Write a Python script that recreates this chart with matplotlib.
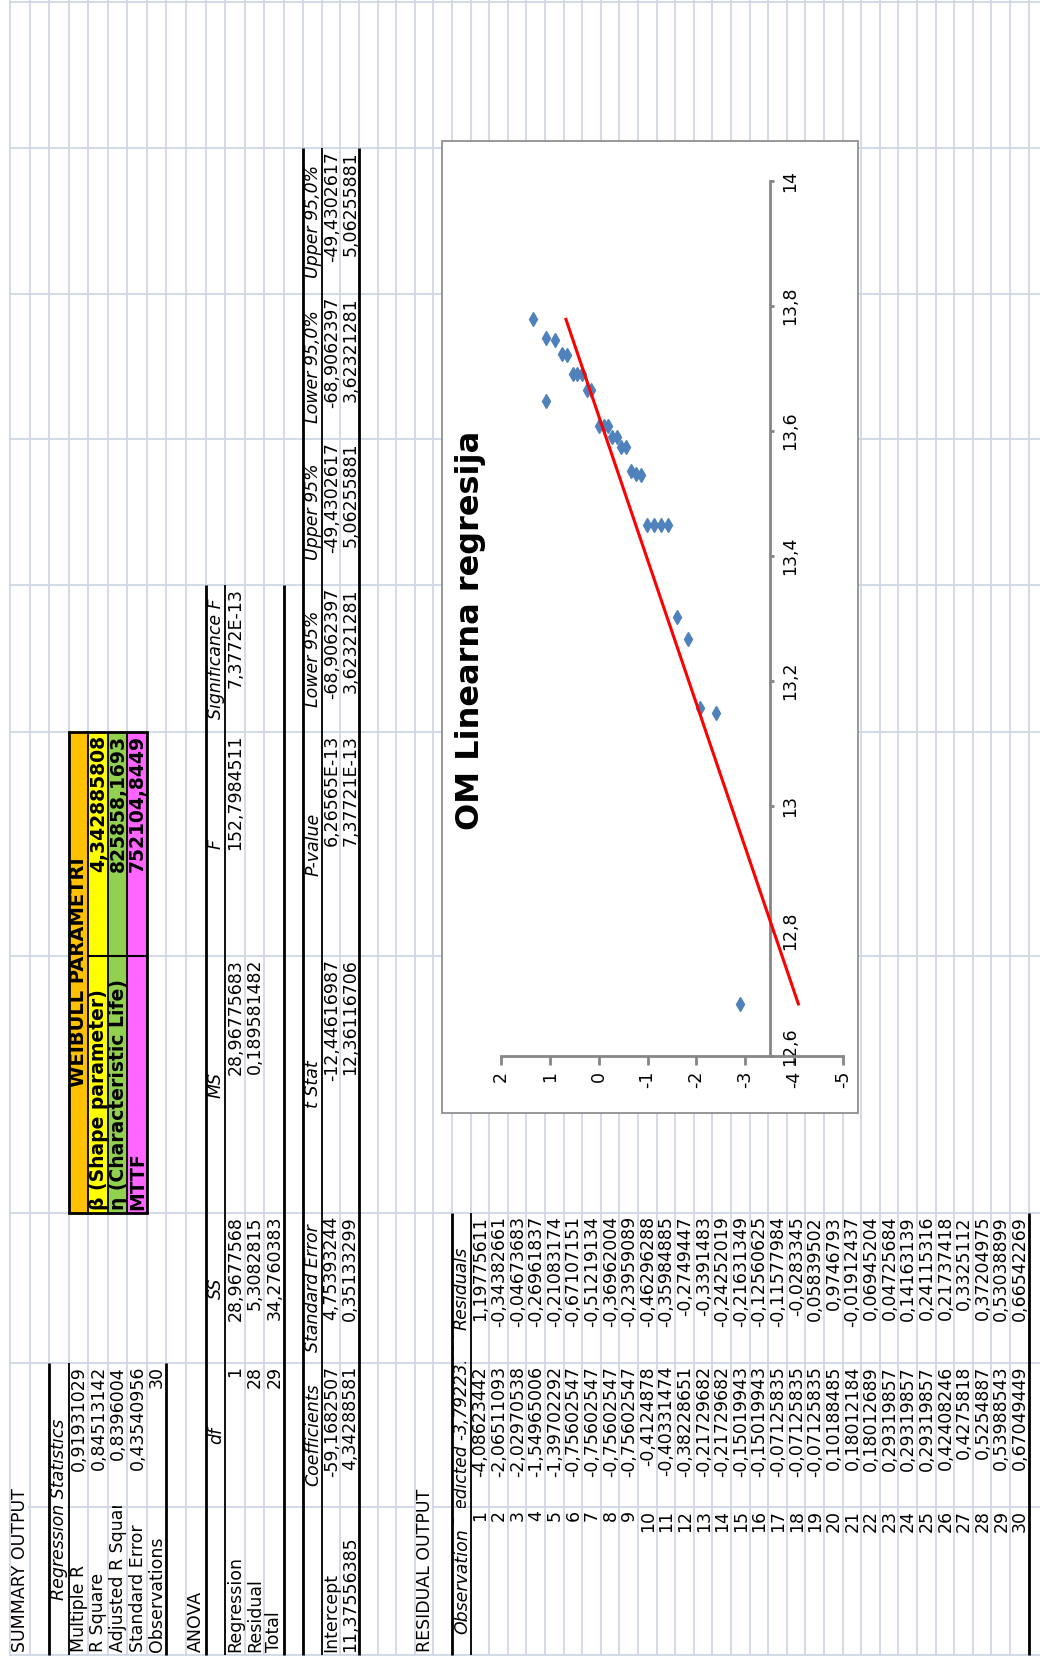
import matplotlib
matplotlib.use("Agg")
import matplotlib.pyplot as plt
from matplotlib.patches import Rectangle
from matplotlib.transforms import ScaledTranslation

plt.rcParams["font.family"] = ["DejaVu Sans"]

# ---- regression output (Excel ToolPak), the sheet is shown rotated 90 deg ----
reg_stat_labels = ["Multiple R", "R Square", "Adjusted R Square", "Standard Error", "Observations"]
reg_stat_values = ["0,91931029", "0,84513142", "0,8396004", "0,43540956", "30"]

anova_cols = ["df", "SS", "MS", "F", "Significance F"]
anova_rows = ["Regression", "Residual", "Total"]
anova_values = [
    ["1", "28,9677568", "28,96775683", "152,7984511", "7,3772E-13"],
    ["28", "5,3082815", "0,189581482", "", ""],
    ["29", "34,2760383", "", "", ""],
]

coef_cols = ["Coefficients", "Standard Error", "t Stat", "P-value",
             "Lower 95%", "Upper 95%", "Lower 95,0%", "Upper 95,0%"]
coef_rows = ["Intercept", "11,37556385"]
coef_values = [
    ["-59,1682507", "4,75393244", "-12,44616987", "6,26565E-13",
     "-68,9062397", "-49,4302617", "-68,9062397", "-49,4302617"],
    ["4,34288581", "0,35133299", "12,36116706", "7,37721E-13",
     "3,62321281", "5,06255881", "3,62321281", "5,06255881"],
]

resid_cols = ["Observation", "Predicted -3,79223139", "Residuals"]
predicted = ["-4,08623442", "-2,06511093", "-2,02970538", "-1,54965006", "-1,39702292",
             "-0,75602547", "-0,75602547", "-0,75602547", "-0,75602547", "-0,4124878",
             "-0,40331474", "-0,38228651", "-0,21729682", "-0,21729682", "-0,15019943",
             "-0,15019943", "-0,07125835", "-0,07125835", "-0,07125835", "0,10188485",
             "0,18012184", "0,18012689", "0,29319857", "0,29319857", "0,29319857",
             "0,42408246", "0,4275818", "0,5254887", "0,53988543", "0,67049449"]
residuals = ["1,19775611", "-0,34382661", "-0,04673683", "-0,26961837", "-0,21083174",
             "-0,67107151", "-0,51219134", "-0,36962004", "-0,23959089", "-0,46296288",
             "-0,35984885", "-0,2749447", "-0,3391483", "-0,24252019", "-0,21631349",
             "-0,12560625", "-0,11577984", "-0,0283345", "0,05839502", "0,9746793",
             "-0,01912437", "0,06945204", "0,04725684", "0,14163139", "0,24115316",
             "0,21737418", "0,3325112", "0,37204975", "0,53038899", "0,66542269"]

weibull_title = "WEIBULL PARAMETRI"
weibull_labels = ["β (Shape parameter)", "η (Characteristic Life)", "MTTF"]
weibull_values = ["4,342885808", "825858,1693", "752104,8449"]
weibull_colors = ["#FFFF00", "#92D050", "#FF66FF"]

# ---- chart data: ln(t) vs ln(ln(1/(1-F))) ----
ln_t = [12.6833, 13.1487, 13.1568, 13.2674, 13.3025, 13.4501, 13.4501, 13.4501, 13.4501,
        13.5292, 13.5313, 13.5362, 13.5741, 13.5741, 13.5896, 13.5896, 13.6078, 13.6078,
        13.6078, 13.6476, 13.6657, 13.6657, 13.6917, 13.6917, 13.6917, 13.7218, 13.7226,
        13.7452, 13.7485, 13.7786]
lnln = [-2.8885, -2.4089, -2.0764, -1.8193, -1.6079, -1.4271, -1.2682, -1.1256, -0.9956,
        -0.8755, -0.7632, -0.6572, -0.5564, -0.4598, -0.3665, -0.2758, -0.1870, -0.0996,
        -0.0129, 1.0766, 0.1610, 0.2496, 0.3405, 0.4348, 0.5344, 0.6415, 0.7601,
        0.8975, 1.0703, 1.3359]
intercept, slope = -59.1682507, 4.34288581
lnt_ticks = [12.6, 12.8, 13.0, 13.2, 13.4, 13.6, 13.8, 14.0]
lnt_labels = ["12,6", "12,8", "13", "13,2", "13,4", "13,6", "13,8", "14"]
y_ticks = [2, 1, 0, -1, -2, -3, -4, -5]
y_labels = ["2", "1", "0", "-1", "-2", "-3", "-4", "-5"]

W, H = 1040, 1659
FS = 12.5
GRID = "#D0D7E5"
AXC = "#868686"

# sheet geometry in pixels (rows run left->right, columns bottom->top)
COL = {"A": (1507, 1655), "B": (1363, 1507), "C": (1213, 1363), "D": (956, 1213),
       "E": (732, 956), "F": (585, 732), "G": (439, 585), "H": (294, 439),
       "I": (148, 294), "J": (2, 148)}
ORDER = "ABCDEFGHIJ"


def row_span(k):
    if k <= 15:
        x0 = 10 + 19.55 * (k - 1)
        return x0, x0 + 19.55
    x0 = 303.25 + 18.6 * (k - 16)
    return x0, x0 + 18.6


fig = plt.figure(figsize=(W / 100, H / 100), dpi=100)
sheet = fig.add_axes([0, 0, 1, 1])
sheet.set_xlim(0, W)
sheet.set_ylim(H, 0)
sheet.axis("off")
renderer = fig.canvas.get_renderer()
inv = sheet.transData.inverted()


def yrange(t):
    ext = t.get_window_extent(renderer)
    (_, ya), (_, yb) = inv.transform([[ext.x0, ext.y0], [ext.x1, ext.y1]])
    return min(ya, yb), max(ya, yb)


# gridlines
for k in range(1, 56):
    x = row_span(k)[0]
    sheet.plot([x, x], [0, 1655], color=GRID, lw=1.3, zorder=1)
for y in [2, 148, 294, 439, 585, 732, 956, 1213, 1363, 1507, 1655]:
    sheet.plot([10, W], [y, y], color=GRID, lw=1.3, zorder=1)

clipped = []


def put(k, c, s, align="left", c2=None, clip=True, **kw):
    x0, x1 = row_span(k)
    top, bot = COL[c]
    if c2:
        top = COL[c2][0]
    if align == "left":
        y, va = bot - 3, "bottom"
    elif align == "right":
        y, va = top + 3, "top"
    else:
        y, va = (top + bot) / 2, "center"
    kw.setdefault("fontsize", FS)
    t = sheet.text((x0 + x1) / 2 + 0.5, y, s, rotation=90, ha="center", va=va,
                   zorder=5, **kw)
    if clip:
        clipped.append((t, k, top, bot))
    return t


def whiteout(k, y0, y1, z=1.5):
    x0, x1 = row_span(k)
    sheet.add_patch(Rectangle((x0 + 1.5, y0), x1 - x0 - 3, y1 - y0,
                              facecolor="white", edgecolor="none", zorder=z))


def border(k_edge, c_top, c_bot, lw):
    sheet.plot([k_edge, k_edge], [COL[c_top][0], COL[c_bot][1]], color="black",
               lw=lw, zorder=6, solid_capstyle="butt")


# summary statistics
whiteout(1, 1370, 1650)
put(1, "A", "SUMMARY OUTPUT", clip=False)
whiteout(3, 1370, 1650)
put(3, "A", "Regression Statistics", align="center", c2="B", clip=False, style="italic")
for i, (lab, val) in enumerate(zip(reg_stat_labels, reg_stat_values)):
    put(4 + i, "A", lab)
    put(4 + i, "B", val, align="right")
border(row_span(3)[0], "B", "A", 2.0)
border(row_span(3)[1], "B", "A", 1.3)
border(row_span(8)[1], "B", "A", 2.0)

# ANOVA
put(10, "A", "ANOVA")
for j, h in enumerate(anova_cols):
    put(11, ORDER[1 + j], h, align="center", style="italic")
for i, lab in enumerate(anova_rows):
    put(12 + i, "A", lab)
    for j, v in enumerate(anova_values[i]):
        if v:
            put(12 + i, ORDER[1 + j], v, align="right")
border(row_span(11)[0], "F", "A", 2.0)
border(row_span(11)[1], "F", "A", 1.3)
border(row_span(14)[1], "F", "A", 2.0)

# coefficients
for j, h in enumerate(coef_cols):
    put(16, ORDER[1 + j], h, align="center", style="italic")
for i, lab in enumerate(coef_rows):
    put(17 + i, "A", lab)
    for j, v in enumerate(coef_values[i]):
        put(17 + i, ORDER[1 + j], v, align="right")
border(row_span(16)[0], "I", "A", 2.0)
border(row_span(16)[1], "I", "A", 1.3)
border(row_span(18)[1], "I", "A", 2.0)

# residual output
whiteout(22, 1370, 1650)
put(22, "A", "RESIDUAL OUTPUT", clip=False)
t_obs = put(24, "A", resid_cols[0], align="center", style="italic")
t_pred = put(24, "B", resid_cols[1], align="center", style="italic")
t_res = put(24, "C", resid_cols[2], align="center", style="italic")
# the long header sits between its neighbours and is cut at the cell edges
free_lo, free_hi = yrange(t_res)[1] + 2, yrange(t_obs)[0] - 2
p_lo, p_hi = yrange(t_pred)
if p_hi - p_lo > free_hi - free_lo:
    t_pred.set_fontsize(FS * (free_hi - free_lo) / (p_hi - p_lo))
t_pred.set_y((free_lo + free_hi) / 2)
for i in range(len(predicted)):
    put(25 + i, "A", str(i + 1), align="right")
    put(25 + i, "B", predicted[i], align="right")
    put(25 + i, "C", residuals[i], align="right")
border(row_span(24)[0], "C", "A", 2.0)
border(row_span(24)[1], "C", "A", 1.3)
border(row_span(54)[1], "C", "A", 2.0)

# Weibull parameter box (rows 4-7, columns D-E)
wtop, wbot = COL["E"][0], COL["D"][1]
x0, x1 = row_span(4)
sheet.add_patch(Rectangle((x0, wtop), x1 - x0, wbot - wtop, facecolor="#FFC000",
                          edgecolor="none", zorder=2))
for i, col in enumerate(weibull_colors):
    a, b = row_span(5 + i)
    sheet.add_patch(Rectangle((a, wtop), b - a, wbot - wtop, facecolor=col,
                              edgecolor="none", zorder=2))
put(4, "D", weibull_title, align="center", c2="E", clip=False, fontweight="bold", fontsize=14)
for i, (lab, val) in enumerate(zip(weibull_labels, weibull_values)):
    put(5 + i, "D", lab, clip=False, fontweight="bold", fontsize=13.5)
    put(5 + i, "E", val, align="right", clip=False, fontweight="bold", fontsize=13.5)
wx0, wx1 = row_span(4)[0], row_span(7)[1]
for k in range(4, 8):
    border(row_span(k)[1], "E", "D", 1.3)
border(wx0, "E", "D", 2.0)
border(wx1, "E", "D", 2.0)
for yb in (wtop, wbot):
    sheet.plot([wx0, wx1], [yb, yb], color="black", lw=2.0, zorder=6)
sheet.plot([row_span(5)[0], wx1], [COL["D"][0], COL["D"][0]], color="black", lw=1.5, zorder=6)

# texts wider than their cell are cut at the cell edges, as in the sheet
for t, k, top, bot in clipped:
    lo, hi = yrange(t)
    if lo < top - 0.5 or hi > bot + 0.5:
        t.set_zorder(4)
        if lo < top - 0.5:
            whiteout(k, lo - 3, top - 1, z=4.5)
        if hi > bot + 0.5:
            whiteout(k, bot + 1, hi + 3, z=4.5)

# chart area
sheet.add_patch(Rectangle((442, 141), 416, 972, facecolor="white", edgecolor=AXC,
                          lw=1.2, zorder=7))
sheet.text(471, 630, "OM Linearna regresija", rotation=90, ha="center", va="center",
           fontsize=23, fontweight="bold", zorder=8)

ax = fig.add_axes([501 / W, 1 - 1056 / H, (843 - 501) / W, (1056 - 181) / H])
ax.set_facecolor("none")
ax.set_xlim(2, -5)
ax.set_ylim(12.6, 14)
ax.plot(lnln, ln_t, "d", ms=7.6, color="#4F81BD", mec="#4F81BD", zorder=3)
lo, hi = min(ln_t), max(ln_t)
ax.plot([intercept + slope * lo, intercept + slope * hi], [lo, hi], color="red",
        lw=2.2, zorder=4)

ax.spines["left"].set_visible(False)
ax.spines["top"].set_visible(False)
ax.spines["right"].set_position(("data", -3.5))
for s in ("right", "bottom"):
    ax.spines[s].set_color(AXC)
    ax.spines[s].set_linewidth(2.0)
ax.yaxis.set_ticks_position("right")
ax.set_xticks(y_ticks, y_labels)
ax.set_yticks(lnt_ticks, lnt_labels)
ax.tick_params(axis="x", direction="out", length=6.5, width=2.0, color=AXC, pad=4,
               labelsize=12.5, labelrotation=90)
ax.tick_params(axis="y", direction="out", length=3, width=2.0, color=AXC, pad=5,
               labelsize=12.5, labelrotation=90)
ylabs = ax.get_yticklabels()
for lab in ylabs:
    lab.set_va("center")
# the lowest ln(t) label sits just above the "-4" label, as in the sheet
ylabs[0].set_transform(ylabs[0].get_transform()
                       + ScaledTranslation(0, 0.09, fig.dpi_scale_trans))

fig.savefig("out.png", dpi=100)
